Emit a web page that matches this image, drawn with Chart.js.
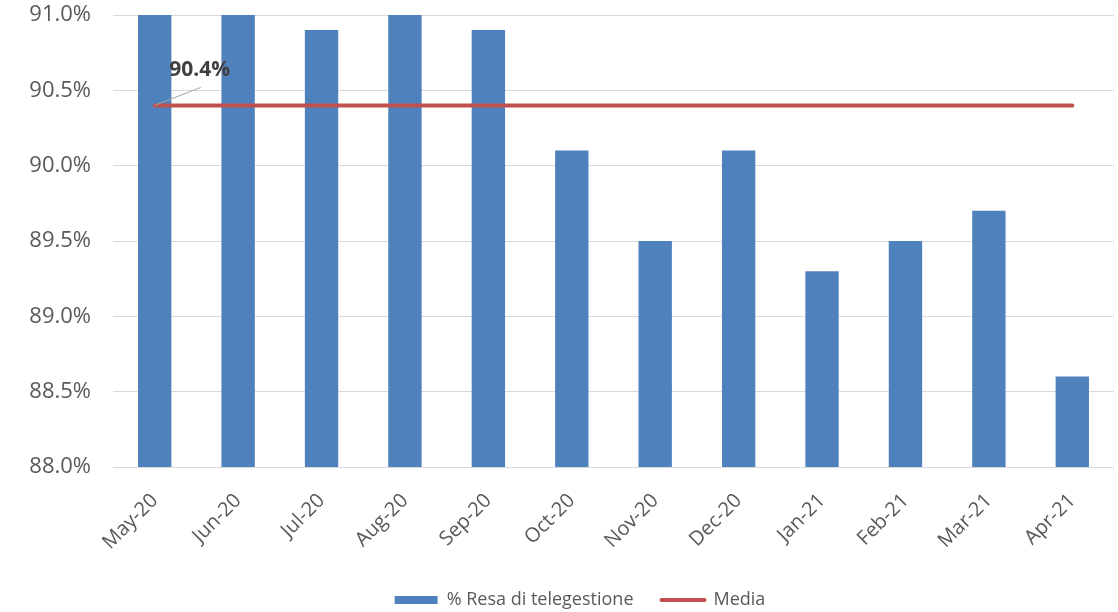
<!DOCTYPE html>
<html>
<head>
<meta charset="utf-8">
<script src="https://cdn.jsdelivr.net/npm/chart.js@4/dist/chart.umd.min.js"></script>
<style>
  html, body { margin: 0; padding: 0; background: #fff; }
  #wrap { width: 1118px; height: 612px; }
</style>
</head>
<body>
<div id="wrap"><canvas id="resaChart"></canvas></div>
<script>
// monthly telemanagement yield vs. average
const months = ['May-20', 'Jun-20', 'Jul-20', 'Aug-20', 'Sep-20', 'Oct-20',
                'Nov-20', 'Dec-20', 'Jan-21', 'Feb-21', 'Mar-21', 'Apr-21'];
const resaValues = [91.2, 91.2, 90.9, 91.2, 90.9, 90.1, 89.5, 90.1, 89.3, 89.5, 89.7, 88.6];
const mediaValues = [90.4, 90.4, 90.4, 90.4, 90.4, 90.4, 90.4, 90.4, 90.4, 90.4, 90.4, 90.4];
const yTicks = [88.0, 88.5, 89.0, 89.5, 90.0, 90.5, 91.0];

const GREY = '#595959';
const FONT = '"Open Sans", sans-serif';

// label for the average line, with a small leader from the first point
const mediaLabel = {
    id: 'mediaLabel',
    afterDatasetsDraw(chart) {
        const meta = chart.getDatasetMeta(1);
        const pt = meta.data[0];
        if (!pt) return;
        const ctx = chart.ctx;
        ctx.save();
        ctx.strokeStyle = '#a6a6a6';
        ctx.lineWidth = 1;
        ctx.beginPath();
        ctx.moveTo(pt.x, pt.y);
        ctx.lineTo(pt.x + 46, pt.y - 18);
        ctx.stroke();
        ctx.fillStyle = '#404040';
        ctx.font = 'bold 21px ' + FONT;
        ctx.textAlign = 'center';
        ctx.textBaseline = 'middle';
        ctx.fillText(mediaValues[0].toFixed(1) + '%', pt.x + 45, pt.y - 35);
        ctx.restore();
    }
};

// keep the legend centred under the plot rather than the whole canvas
const legendOffset = {
    id: 'legendOffset',
    afterLayout(chart) {
        if (chart.legend) chart.legend.left += 46;
    }
};

new Chart(document.getElementById('resaChart'), {
    data: {
        labels: months,
        datasets: [{
            type: 'bar',
            label: '% Resa di telegestione',
            data: resaValues,
            backgroundColor: '#4F81BD',
            barPercentage: 0.4,
            categoryPercentage: 1.0,
            clip: 0,
            order: 2
        }, {
            type: 'line',
            label: 'Media',
            data: mediaValues,
            borderColor: '#C0504D',
            backgroundColor: '#C0504D',
            borderWidth: 4,
            borderCapStyle: 'round',
            pointRadius: 0,
            pointHoverRadius: 0,
            order: 1
        }]
    },
    options: {
        responsive: true,
        maintainAspectRatio: false,
        animation: false,
        layout: { padding: { top: 15, right: 4, left: 0, bottom: -7 } },
        plugins: {
            title: { display: false },
            tooltip: { enabled: false },
            legend: {
                position: 'bottom',
                padding: 0,
                labels: {
                    color: GREY,
                    font: { family: FONT, size: 18 },
                    usePointStyle: true,
                    pointStyleWidth: 43,
                    boxHeight: 8,
                    padding: 28,
                    generateLabels(chart) {
                        return chart.data.datasets.map((ds, i) => ({
                            text: ds.label,
                            datasetIndex: i,
                            fillStyle: ds.type === 'bar' ? ds.backgroundColor : ds.borderColor,
                            strokeStyle: ds.type === 'bar' ? ds.backgroundColor : ds.borderColor,
                            lineWidth: ds.type === 'bar' ? 0 : 4,
                            lineCap: 'round',
                            pointStyle: ds.type === 'bar' ? 'rect' : 'line',
                            fontColor: GREY,
                            hidden: false
                        }));
                    }
                }
            }
        },
        scales: {
            x: {
                grid: { display: false, drawTicks: false },
                border: { display: false },
                ticks: {
                    color: GREY,
                    font: { family: FONT, size: 20 },
                    minRotation: 45,
                    maxRotation: 45,
                    padding: 22
                },
                afterFit(scale) {
                    scale.height = 96;
                    scale.paddingTop = 0;
                    scale.paddingBottom = 0;
                }
            },
            y: {
                min: 88,
                max: 91,
                afterBuildTicks(scale) { scale.ticks = yTicks.map(v => ({ value: v })); },
                grid: { color: '#d9d9d9', lineWidth: 1, drawTicks: false },
                border: { display: false },
                ticks: {
                    color: GREY,
                    font: { family: FONT, size: 22 },
                    padding: 22,
                    callback: v => v.toFixed(1) + '%'
                },
                afterFit(scale) {
                    scale.width = 113;
                    scale.paddingTop = 0;
                    scale.paddingBottom = 0;
                }
            }
        }
    },
    plugins: [mediaLabel, legendOffset]
});
</script>
</body>
</html>
